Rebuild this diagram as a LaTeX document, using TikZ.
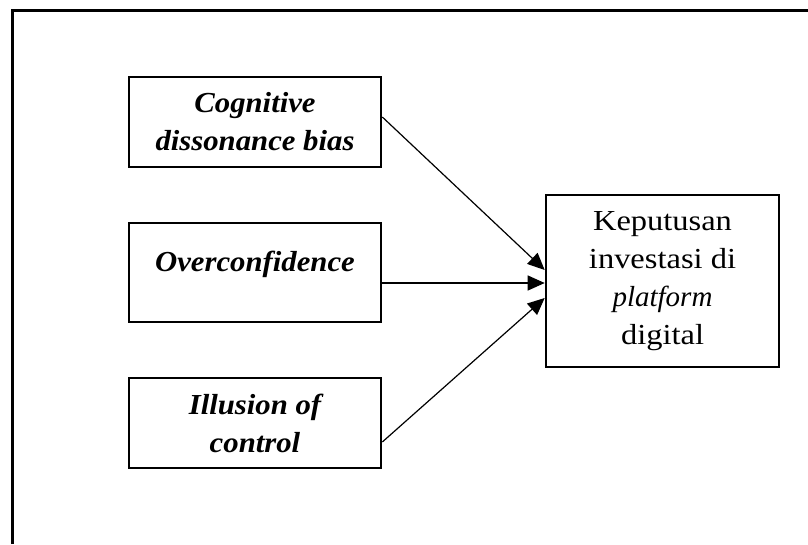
\documentclass[tikz,border=0pt]{standalone}
\usepackage{fontspec}
\setmainfont{Liberation Serif}[
  UprightFeatures={FakeStretch=1.12},
  BoldItalicFeatures={FakeStretch=1.06}]
\usetikzlibrary{arrows.meta}
\tikzset{
  box/.style={draw, line width=2.6pt, rectangle, align=center, inner sep=0pt,
    font=\fontsize{29}{38}\selectfont},
  leftbox/.style={box, minimum width=252pt, font=\fontsize{29}{38}\selectfont\bfseries\itshape},
  link/.style={line width=1.2pt, -{Triangle[length=17pt,width=15pt]}},
  frame/.style={line width=3pt}
}
\begin{document}
\begin{tikzpicture}[x=1pt,y=-1pt]
\useasboundingbox (0,0) rectangle (808,544);
\draw[frame] (12,544) -- (12,10) -- (808,10);
\node[leftbox, minimum height=90pt] (c1) at (255,122) {Cognitive\\dissonance bias};
\node[leftbox, minimum height=99pt] (c2) at (255,272.5) {\raisebox{8pt}[\height][\depth]{Overconfidence}};
\node[leftbox, minimum height=90pt] (c3) at (255,423) {Illusion of\\control};
\node[box, minimum width=233pt, minimum height=172pt, font=\fontsize{29}{38}\selectfont] (dv) at (662.5,281)
  {Keputusan\\investasi di\\\textit{platform}\\digital};
\draw[link] ([yshift=5pt]c1.east) -- ([yshift=11pt]dv.west);
\draw[link] ([yshift=-10.5pt]c2.east) -- ([yshift=-2pt]dv.west);
\draw[link] ([yshift=-19pt]c3.east) -- ([yshift=-17pt]dv.west);
\end{tikzpicture}
\end{document}
